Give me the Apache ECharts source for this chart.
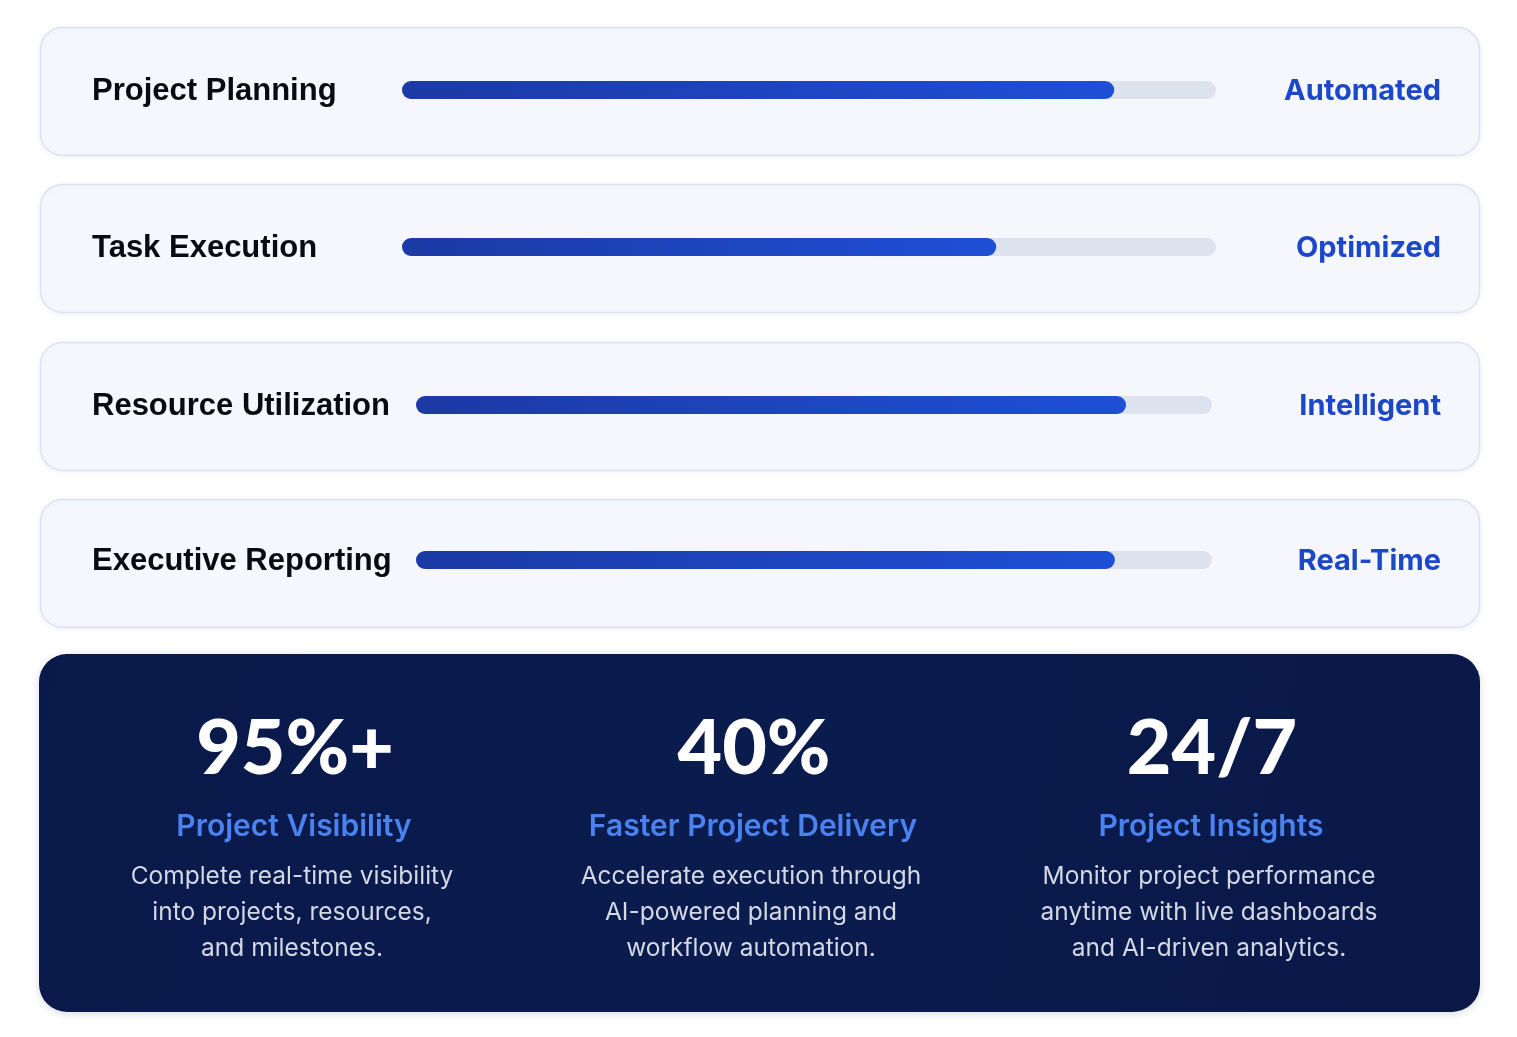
<!DOCTYPE html>
<html>
<head>
<meta charset="utf-8">
<script src="https://cdn.jsdelivr.net/npm/echarts@6/dist/echarts.min.js"></script>
<style>
html,body{margin:0;padding:0;background:#ffffff;}
#chart{width:1517px;height:1037px;}
</style>
</head>
<body>
<div id="chart"></div>
<script>
// ---- data ----
var categories = ['Project Planning', 'Task Execution', 'Resource Utilization', 'Executive Reporting'];
var progressValues = [87.5, 73, 89.2, 87.8];
var statusLabels = ['Automated', 'Optimized', 'Intelligent', 'Real-Time'];
var statValues = ['95%+', '40%', '24/7'];
var statTitles = ['Project Visibility', 'Faster Project Delivery', 'Project Insights'];
var statDescriptions = [
  ['Complete real-time visibility', 'into projects, resources,', 'and milestones.'],
  ['Accelerate execution through', 'AI-powered planning and', 'workflow automation.'],
  ['Monitor project performance', 'anytime with live dashboards', 'and AI-driven analytics.']
];

// ---- layout ----
var cardTops = [27, 184, 342, 499];
var cardH = 128;
var barCenters = [90, 247, 405, 560];
var trackStarts = [402, 402, 416, 416];
var trackEnds = [1216, 1216, 1212, 1212];
var barH = 18;
var statCenters = [294, 753, 1211];

var chart = echarts.init(document.getElementById('chart'));

var grids = [], xAxes = [], yAxes = [], series = [], graphics = [];

categories.forEach(function (c, i) {
  grids.push({
    left: trackStarts[i],
    width: trackEnds[i] - trackStarts[i],
    top: barCenters[i] - barH / 2,
    height: barH,
    containLabel: false
  });
  xAxes.push({ type: 'value', gridIndex: i, min: 0, max: 100, show: false });
  yAxes.push({ type: 'category', gridIndex: i, data: [c], show: false });
  series.push({
    type: 'bar',
    xAxisIndex: i,
    yAxisIndex: i,
    data: [progressValues[i]],
    barWidth: barH,
    showBackground: true,
    backgroundStyle: { color: '#dde2ef', borderRadius: barH / 2 },
    itemStyle: {
      borderRadius: barH / 2,
      color: new echarts.graphic.LinearGradient(0, 0, 1, 0, [
        { offset: 0, color: '#1b3aa5' },
        { offset: 1, color: '#1e4fd6' }
      ])
    },
    silent: true,
    z: 5
  });

  graphics.push({
    type: 'rect',
    z: 0,
    shape: { x: 40.5, y: cardTops[i] + 0.5, width: 1439, height: cardH, r: 22 },
    style: {
      fill: '#f5f7fd',
      stroke: '#dce2f2',
      lineWidth: 1.5,
      shadowBlur: 6,
      shadowColor: 'rgba(30,50,120,0.06)',
      shadowOffsetY: 1
    }
  });
  graphics.push({
    type: 'text',
    z: 10,
    x: 92,
    y: barCenters[i] + 1,
    style: {
      text: c,
      fill: '#0a0a0f',
      font: 'bold 31px "Liberation Sans", Arial, sans-serif',
      textAlign: 'left',
      textVerticalAlign: 'middle'
    }
  });
  graphics.push({
    type: 'text',
    z: 10,
    x: 1441,
    y: barCenters[i] + 1,
    style: {
      text: statusLabels[i],
      fill: '#1c47c8',
      font: 'bold 29px Inter, "Open Sans", sans-serif',
      textAlign: 'right',
      textVerticalAlign: 'middle'
    }
  });
});

// dark panel
graphics.push({
  type: 'rect',
  z: 0,
  shape: { x: 39, y: 654, width: 1441, height: 358, r: 28 },
  style: {
    fill: new echarts.graphic.LinearGradient(0, 0, 1, 1, [
      { offset: 0, color: '#09194a' },
      { offset: 0.5, color: '#0a1b4e' },
      { offset: 1, color: '#091847' }
    ]),
    shadowBlur: 8,
    shadowColor: 'rgba(10,20,60,0.15)',
    shadowOffsetY: 2
  }
});

statValues.forEach(function (v, i) {
  graphics.push({
    type: 'text', z: 10, x: statCenters[i] + 1, y: 749,
    style: {
      text: v, fill: '#ffffff',
      font: '900 77px Lato, Inter, sans-serif',
      textAlign: 'center', textVerticalAlign: 'middle'
    }
  });
  graphics.push({
    type: 'text', z: 10, x: statCenters[i], y: 827,
    style: {
      text: statTitles[i], fill: '#4a82f0',
      font: '600 30px Inter, sans-serif',
      textAlign: 'center', textVerticalAlign: 'middle'
    }
  });
  statDescriptions[i].forEach(function (line, j) {
    graphics.push({
      type: 'text', z: 10, x: statCenters[i] - 2, y: 877 + j * 36,
      style: {
        text: line, fill: '#d3d8e4',
        font: '24.5px Inter, sans-serif',
        textAlign: 'center', textVerticalAlign: 'middle'
      }
    });
  });
});

chart.setOption({
  animation: false,
  backgroundColor: '#ffffff',
  grid: grids,
  xAxis: xAxes,
  yAxis: yAxes,
  series: series,
  graphic: { elements: graphics }
});
</script>
</body>
</html>
